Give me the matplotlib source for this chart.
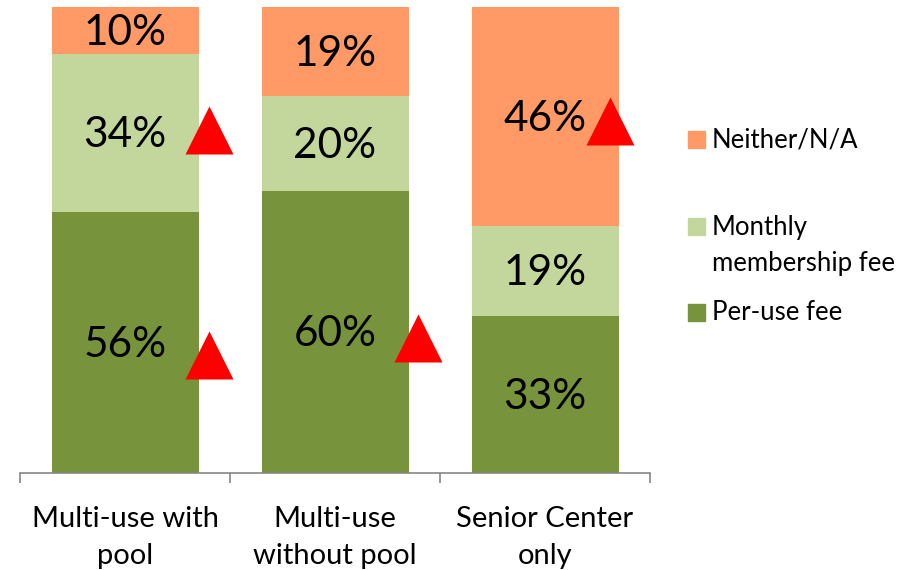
import numpy as np
import matplotlib
matplotlib.use("Agg")
import matplotlib.pyplot as plt
from matplotlib.patches import Rectangle

plt.rcParams['font.family'] = ['Lato', 'DejaVu Sans']

categories = ['Multi-use with\npool', 'Multi-use\nwithout pool', 'Senior Center\nonly']
series = ['Per-use fee', 'Monthly\nmembership fee', 'Neither/N/A']
per_use = [56, 60, 33]
monthly = [34, 20, 19]
neither = [10, 19, 46]
colors = ['#77933C', '#C3D69B', '#FF9966']

# up-triangles: (category, series index, x offset, y offset from segment centre)
flags = [(0, 0, 0.40, -2.7), (0, 1, 0.40, 0.5), (1, 0, 0.395, -1.4), (2, 2, 0.31, -0.9)]

W, H = 922, 570
fig = plt.figure(figsize=(W / 100, H / 100), dpi=100)
ax = fig.add_axes([20 / W, 1 - 473 / H, 630 / W, 466 / H])

vals = np.array([per_use, monthly, neither], dtype=float)
pct = vals / vals.sum(axis=0) * 100
x = np.arange(len(categories))
bottom = np.zeros(len(categories))
mids = []
for k in range(len(series)):
    ax.bar(x, pct[k], 0.70, bottom=bottom, color=colors[k], edgecolor='none')
    mid = bottom + pct[k] / 2
    mids.append(mid)
    for i in range(len(x)):
        ax.text(x[i], mid[i] - 0.5, f'{int(vals[k, i])}%', ha='center', va='center',
                fontsize=30.5, color='black')
    bottom = bottom + pct[k]

for ci, si, dx, dy in flags:
    ax.plot(x[ci] + dx, mids[si][ci] + dy, marker='^', markersize=34, color='#FF0000',
            markeredgecolor='none', linestyle='none')

ax.set_xlim(-0.5, 2.5)
ax.set_ylim(0, 100)
for s in ['left', 'right', 'top']:
    ax.spines[s].set_visible(False)
ax.spines['bottom'].set_color('#868686')
ax.spines['bottom'].set_linewidth(1.2)
ax.set_yticks([])
ax.set_xticks(x)
ax.set_xticklabels(categories, fontsize=21, linespacing=1.5)
ax.tick_params(axis='x', which='major', length=0, pad=24)
ax.set_xticks([-0.5, 0.5, 1.5, 2.5], minor=True)
ax.tick_params(axis='x', which='minor', length=7.5, width=1.2, color='#868686', direction='out')

# legend, drawn by hand to follow the uneven spacing of the original
leg_y = [312, 226, 139]
for k in range(len(series)):
    yc = leg_y[k]
    fig.add_artist(Rectangle((688 / W, 1 - (yc + 8.5) / H), 17 / W, 17 / H,
                             transform=fig.transFigure, color=colors[k]))
    lines = series[k].split('\n')
    for j, line in enumerate(lines):
        fig.text(712 / W, 1 - (yc + 1 + 36 * j) / H, line, fontsize=18.5,
                 ha='left', va='center')

fig.savefig('out.png', dpi=100)
